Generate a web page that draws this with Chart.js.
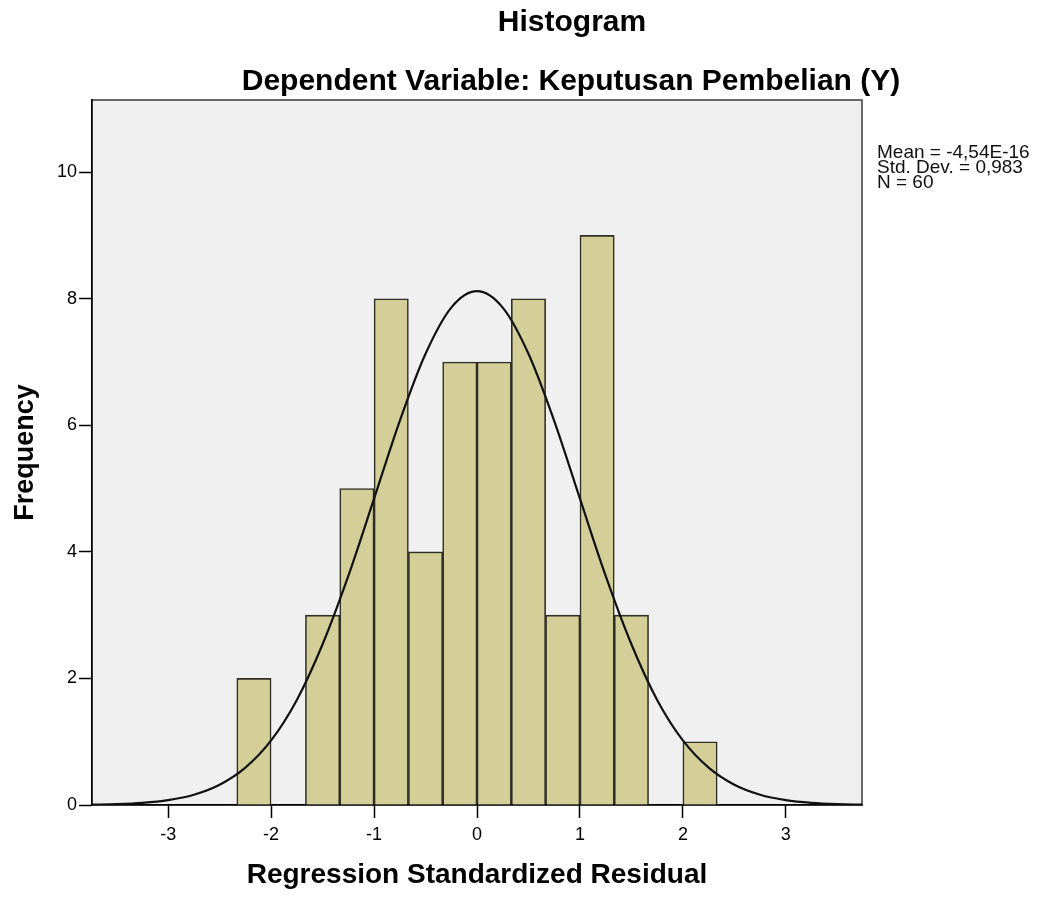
<!DOCTYPE html>
<html>
<head>
<meta charset="utf-8">
<title>Histogram</title>
<script src="https://cdn.jsdelivr.net/npm/chart.js@4.4.1/dist/chart.umd.min.js"></script>
<style>
  html, body { margin: 0; padding: 0; background: #fff; }
  #wrap { position: relative; width: 1041px; height: 897px; }
</style>
</head>
<body>
<div id="wrap">
  <canvas id="chart" width="1041" height="897"></canvas>
</div>
<script>
const FONT = '"Liberation Sans", Arial, sans-serif';

// histogram bins (bin width 1/3), centres and counts
const binCenters = [-2.1667, -1.5, -1.1667, -0.8333, -0.5, -0.1667, 0.1667, 0.5, 0.8333, 1.1667, 1.5, 2.1667];
const frequencies = [2, 3, 5, 8, 4, 7, 7, 8, 3, 9, 3, 1];

// normal curve at steps of 0.25
const curveX = [-3.75, -3.5, -3.25, -3, -2.75, -2.5, -2.25, -2, -1.75, -1.5, -1.25, -1, -0.75, -0.5, -0.25, 0,
                0.25, 0.5, 0.75, 1, 1.25, 1.5, 1.75, 2, 2.25, 2.5, 2.75, 3, 3.25, 3.5, 3.75];
const curveY = [0.006, 0.014, 0.034, 0.077, 0.162, 0.32, 0.59, 1.02, 1.66, 2.54, 3.62, 4.84, 6.07, 7.13, 7.86, 8.12,
                7.86, 7.13, 6.07, 4.84, 3.62, 2.54, 1.66, 1.02, 0.59, 0.32, 0.162, 0.077, 0.034, 0.014, 0.006];

const xTicks = [-3, -2, -1, 0, 1, 2, 3];
const yTicks = [0, 2, 4, 6, 8, 10];

const titleText = "Histogram";
const subtitleText = "Dependent Variable: Keputusan Pembelian (Y)";
const statsLines = ["Mean = -4,54E-16", "Std. Dev. = 0,983", "N = 60"];

// grey plot background and frame, titles and stats box
const plotFrame = {
  id: "plotFrame",
  beforeDraw(chart) {
    const { ctx, chartArea: a } = chart;
    ctx.save();
    ctx.fillStyle = "#f0f0f0";
    ctx.fillRect(a.left, a.top, a.width, a.height);
    ctx.strokeStyle = "#3a3a3a";
    ctx.lineWidth = 1.5;
    ctx.strokeRect(a.left, a.top, a.width, a.height);
    ctx.restore();
  },
  afterDraw(chart) {
    const { ctx } = chart;
    ctx.save();
    ctx.fillStyle = "#000";
    ctx.textAlign = "center";
    ctx.textBaseline = "alphabetic";
    ctx.font = "bold 30px " + FONT;
    ctx.fillText(titleText, 572, 31);
    ctx.fillText(subtitleText, 571, 90);
    ctx.textAlign = "left";
    ctx.font = "19px " + FONT;
    ctx.fillStyle = "#111";
    statsLines.forEach((t, i) => ctx.fillText(t, 877, 158 + i * 15));
    ctx.restore();
  }
};

new Chart(document.getElementById("chart"), {
  type: "bar",
  data: {
    datasets: [
      {
        type: "line",
        data: curveX.map((x, i) => ({ x, y: curveY[i] })),
        borderColor: "#111",
        borderWidth: 2.2,
        pointRadius: 0,
        cubicInterpolationMode: "monotone",
        fill: false,
        order: 0
      },
      {
        type: "bar",
        data: binCenters.map((x, i) => ({ x, y: frequencies[i] })),
        backgroundColor: "#d4ce98",
        borderColor: "#2f2e25",
        borderWidth: 1.6,
        barPercentage: 1,
        categoryPercentage: 1,
        order: 1
      }
    ]
  },
  options: {
    responsive: false,
    animation: false,
    layout: { padding: { top: 100, right: 179, left: 0, bottom: 0 } },
    plugins: {
      legend: { display: false },
      tooltip: { enabled: false }
    },
    scales: {
      x: {
        type: "linear",
        min: -3.74,
        max: 3.74,
        offset: false,
        afterFit: s => { s.height = 92; },
        afterBuildTicks: s => { s.ticks = xTicks.map(v => ({ value: v })); },
        ticks: { includeBounds: false, color: "#000", font: { family: FONT, size: 18 }, padding: 6 },
        grid: { offset: false, drawOnChartArea: false, tickLength: 13, tickColor: "#000", tickWidth: 1.5 },
        border: { color: "#000", width: 1.5 },
        title: {
          display: true,
          text: "Regression Standardized Residual",
          color: "#000",
          font: { family: FONT, size: 28, weight: "bold" },
          padding: { top: 0, bottom: 5 }
        }
      },
      y: {
        min: 0,
        max: 11.14,
        afterFit: s => { s.width = 92; },
        afterBuildTicks: s => { s.ticks = yTicks.map(v => ({ value: v })); },
        ticks: { includeBounds: false, color: "#000", font: { family: FONT, size: 18 }, padding: 2 },
        grid: { drawOnChartArea: false, tickLength: 13, tickColor: "#000", tickWidth: 1.5 },
        border: { color: "#000", width: 1.5 },
        title: {
          display: true,
          text: "Frequency",
          color: "#000",
          font: { family: FONT, size: 27, weight: "bold" },
          padding: { top: 9, bottom: 0 }
        }
      }
    }
  },
  plugins: [plotFrame]
});
</script>
</body>
</html>
